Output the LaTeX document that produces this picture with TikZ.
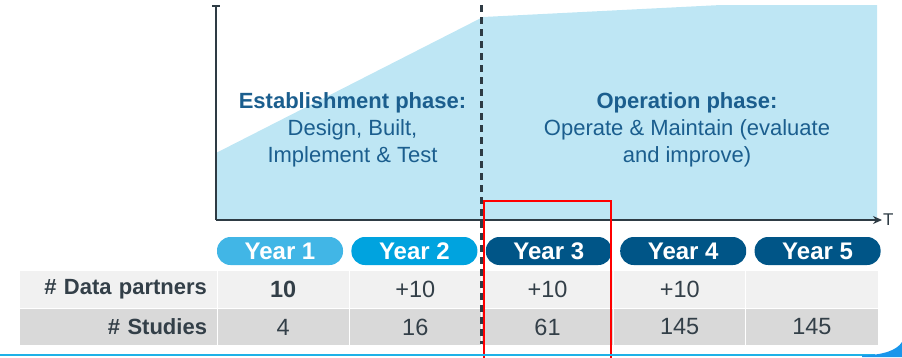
\documentclass[tikz,border=0pt]{standalone}
\usepackage{fontspec}
\setmainfont{Liberation Sans}
\usetikzlibrary{arrows.meta, positioning}

\definecolor{phasefill}{HTML}{BEE6F4}
\definecolor{axisgray}{HTML}{2E3B44}
\definecolor{phaseblue}{HTML}{1B5E8E}
\definecolor{yearA}{HTML}{41B6E6}
\definecolor{yearB}{HTML}{00A3DF}
\definecolor{yearC}{HTML}{005587}
\definecolor{rowA}{HTML}{F1F1F1}
\definecolor{rowB}{HTML}{D9D9D9}
\definecolor{tabtext}{HTML}{333F48}
\definecolor{footblue}{HTML}{1EB1E7}

\begin{document}
\begin{tikzpicture}[
    x=1pt,
    y=-1pt,
    node distance=8pt,
    axisline/.style={draw=axisgray, line width=2.4pt},
    phasetext/.style={text=phaseblue, align=center, font=\fontsize{22}{27}\selectfont},
    yearpill/.style={rounded corners=13.5pt, minimum width=126pt, minimum height=28pt,
        inner sep=0pt, text=white, font=\fontsize{24}{24}\selectfont\bfseries},
    cell/.style={draw=white, line width=1pt, minimum width=132.2pt, inner sep=0pt,
        text=tabtext, font=\fontsize{23.5}{23.5}\selectfont},
    labelcell/.style={cell, minimum width=198pt, align=right, text width=178pt,
        font=\fontsize{22}{22}\selectfont\bfseries},
]
    \useasboundingbox (0,0) rectangle (902,357);

    % phase area
    \fill[phasefill] (216,153) -- (483,17) -- (721,5) -- (877,5) -- (877,220) -- (216,220) -- cycle;

    % axes
    \coordinate (O) at (216,220);
    \coordinate (ytop) at (216,5);
    \coordinate (xend) at (882,220);
    \draw[axisline, -{Bar[width=8pt]}] (O) -- (ytop);
    \draw[axisline, -{Stealth[length=9pt, width=8pt]}] (O) -- (xend);
    \node[right=0pt of xend, inner sep=1pt, text=axisgray, font=\fontsize{17}{17}\selectfont] (T) {T};

    % phases
    \node[phasetext] (estab) at (352.5,130) {\textbf{Establishment phase:}\\Design, Built,\\Implement \& Test};
    \node[phasetext] (oper) at (687,130) {\textbf{Operation phase:}\\Operate \& Maintain (evaluate\\and improve)};

    % table rows
    \node[labelcell, fill=rowA, minimum height=38pt] (lab1) at (118,289) {\# Data partners};
    \node[labelcell, fill=rowB, minimum height=37pt] (lab2) at (118,327) {\# Studies};
    \foreach \v [count=\i] in {\textbf{10}, +10, +10, +10, {}} {
        \node[cell, fill=rowA, minimum height=38pt] (a\i) at (217+132.2*\i-66.1, 289) {\v};
    }
    \foreach \v [count=\i] in {4, 16, 61, 145, 145} {
        \node[cell, fill=rowB, minimum height=37pt] (b\i) at (217+132.2*\i-66.1, 327) {\v};
    }

    % years
    \node[yearpill, fill=yearA] (y1) at (280,251) {Year 1};
    \node[yearpill, fill=yearB, right=of y1] (y2) {Year 2};
    \node[yearpill, fill=yearC, right=of y2] (y3) {Year 3};
    \node[yearpill, fill=yearC, right=of y3] (y4) {Year 4};
    \node[yearpill, fill=yearC, right=of y4] (y5) {Year 5};

    % phase border
    \coordinate (dtop) at (481.5,5);
    \coordinate (dbot) at (481.5,344);
    \draw[axisgray, line width=2.4pt, dash pattern=on 7pt off 5pt] (dtop) -- (dbot);

    % current year
    \draw[red, line width=2.4pt] (484,360) -- (484,201) -- (611,201) -- (611,360);

    % footer
    \draw[footblue, line width=2pt] (0,355) -- (875,355);
    \fill[footblue!85!blue] (862,357) -- (862,355.5) .. controls (884,355) and (897,350) .. (902,342) -- (902,357) -- cycle;
\end{tikzpicture}
\end{document}
